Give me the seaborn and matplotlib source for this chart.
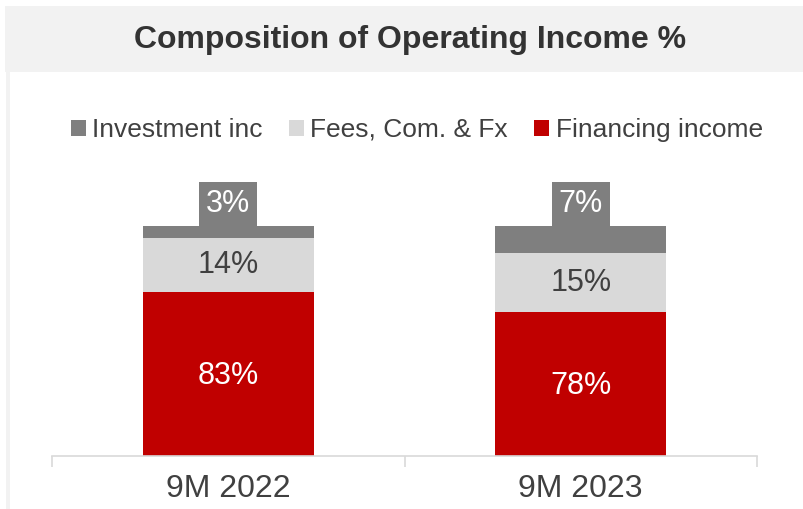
import numpy as np
import pandas as pd
import matplotlib
matplotlib.use("Agg")
import matplotlib.pyplot as plt
from matplotlib.patches import Patch, Rectangle
import seaborn as sns

# data
periods = ["9M 2022", "9M 2023"]
financing = [83, 78]
fees = [14, 15]
investment = [3, 7]
series_names = ["Investment inc", "Fees, Com. & Fx", "Financing income"]
series_colors = ["#7F7F7F", "#D9D9D9", "#C00000"]

sns.set_style("white")
plt.rcParams["font.family"] = ["Liberation Sans", "DejaVu Sans"]
text_col = "#404040"

df = pd.DataFrame({"period": periods, "fin": financing, "fees": fees, "inv": investment})
df["fin_fees"] = df["fin"] + df["fees"]
df["total"] = df["fin_fees"] + df["inv"]

fig = plt.figure(figsize=(8.04, 5.09), dpi=100)
W, H = 804, 509

# grey title band and left border
fig.patches.append(Rectangle((5 / W, 1 - 72 / H), 1, 66 / H, transform=fig.transFigure,
                             facecolor="#F2F2F2", edgecolor="none", zorder=0))
fig.patches.append(Rectangle((6 / W, 0), 4 / W, 1 - 68 / H, transform=fig.transFigure,
                             facecolor="#F2F2F2", edgecolor="none", zorder=0))
fig.text(410 / W, 1 - 40 / H, "Composition of Operating Income %", ha="center", va="center",
         fontsize=23, fontweight="bold", color="#333333")

ax = fig.add_axes([52 / W, 53 / H, 705 / W, 230 / H])

# stacked bars by overdrawing cumulative totals
sns.barplot(data=df, x="period", y="total", color=series_colors[0], width=0.485,
            saturation=1, linewidth=0, ax=ax)
sns.barplot(data=df, x="period", y="fin_fees", color=series_colors[1], width=0.485,
            saturation=1, linewidth=0, ax=ax)
sns.barplot(data=df, x="period", y="fin", color=series_colors[2], width=0.485,
            saturation=1, linewidth=0, ax=ax)

ax.set_ylim(41, 100)
ax.set_xlim(-0.5, 1.5)

for i, row in df.iterrows():
    ax.text(i, row["fin"] / 2 + 41 / 2 - 0.5, f"{row['fin']}%", ha="center", va="center",
            fontsize=22, color="white")
    ax.text(i, row["fin"] + row["fees"] / 2, f"{row['fees']}%", ha="center", va="center",
            fontsize=22, color=text_col)
    ax.annotate(f"{row['inv']}%", xy=(i, row["total"]), xytext=(0, 5), textcoords="offset points",
                ha="center", va="bottom", fontsize=22, color="white", annotation_clip=False,
                bbox=dict(boxstyle="square,pad=0.22", facecolor=series_colors[0], edgecolor="none"))

for s in ["top", "left", "right"]:
    ax.spines[s].set_visible(False)
ax.spines["bottom"].set_color("#D9D9D9")
ax.spines["bottom"].set_linewidth(1.2)
ax.set_yticks([])
ax.set_xlabel("")
ax.set_ylabel("")
ax.set_xticks([0, 1])
ax.set_xticklabels(periods, fontsize=23, color=text_col)
ax.set_xticks([-0.5, 0.5, 1.5], minor=True)
ax.tick_params(axis="x", which="major", length=0, pad=13)
ax.tick_params(axis="x", which="minor", length=8, width=1.2, color="#D9D9D9", bottom=True)

handles = [Patch(facecolor=c, edgecolor="none", label=n) for n, c in zip(series_names, series_colors)]
fig.legend(handles=handles, loc="center", bbox_to_anchor=(417 / W, 1 - 130 / H), ncol=3,
           frameon=False, fontsize=19, handlelength=0.55, handleheight=0.55,
           handletextpad=0.25, columnspacing=1.0, labelcolor=text_col)

fig.savefig("out.png", dpi=100)
